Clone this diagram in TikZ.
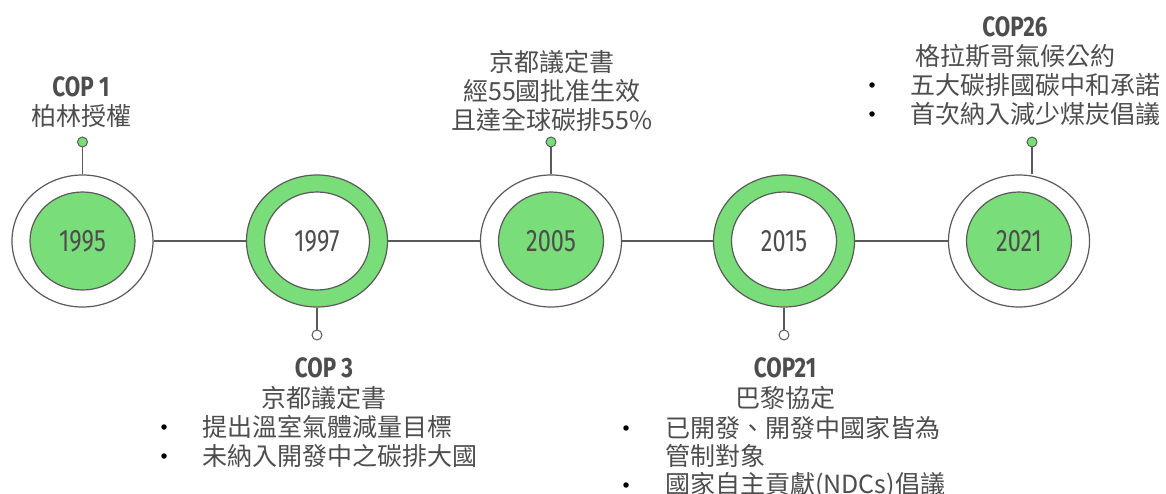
\documentclass[tikz,border=0pt]{standalone}
\usepackage{fontspec}
\usetikzlibrary{shapes.geometric}
\newfontfamily\cjk{Noto Sans CJK TC}
\newfontfamily\yearfont[FakeStretch=0.76]{Fira Sans}
\newfontfamily\copfont[FakeStretch=0.8]{Fira Sans Bold}
\definecolor{ringgreen}{HTML}{79DE79}
\definecolor{edgegray}{HTML}{5A5A5A}
\definecolor{txtgray}{HTML}{4D4D4D}
\begin{document}
\begin{tikzpicture}[x=1pt,y=-1pt,
  outerw/.style={ellipse,draw=edgegray,line width=1.2pt,fill=white,minimum width=141pt,minimum height=132pt,inner sep=0pt},
  outerg/.style={outerw,fill=ringgreen},
  innerg/.style={ellipse,draw=edgegray,line width=1.2pt,fill=ringgreen,minimum width=105pt,minimum height=98pt,inner sep=0pt,text=txtgray,font=\yearfont\fontsize{31}{31}\selectfont},
  innerw/.style={innerg,fill=white},
  link/.style={draw=edgegray,line width=1.2pt},
  dotg/.style={circle,draw=edgegray,line width=1pt,fill=ringgreen,minimum size=10pt,inner sep=0pt},
  dotw/.style={dotg,fill=white},
  cop/.style={text=txtgray,font=\copfont\fontsize{28}{28}\selectfont,inner sep=0pt},
  zh/.style={text=txtgray,font=\cjk\fontsize{25}{25}\selectfont,inner sep=0pt},
  zhl/.style={zh,anchor=west},
  bul/.style={circle,fill=black,minimum size=5.5pt,inner sep=0pt}
]
\useasboundingbox (0,0) rectangle (1166,494);
% circles
\node[outerw] (o1) at (82.5,241) {};
\node[innerg] (i1) at (82.5,241) {1995};
\node[outerg] (o2) at (317,241) {};
\node[innerw] (i2) at (317,241) {1997};
\node[outerw] (o3) at (551,241) {};
\node[innerg] (i3) at (551,241) {2005};
\node[outerg] (o4) at (784,241) {};
\node[innerw] (i4) at (784,241) {2015};
\node[outerw] (o5) at (1019,241) {};
\node[innerg] (i5) at (1019,241) {2021};
% horizontal links
\draw[link] (o1.east) -- (o2.west);
\draw[link] (o2.east) -- (o3.west);
\draw[link] (o3.east) -- (o4.west);
\draw[link] (o4.east) -- (o5.west);
% stems and dots
\node[dotg] (d1) at (82.5,142) {};
\node[dotw] (d2) at (317,335) {};
\node[dotg] (d3) at (551,142) {};
\node[dotw] (d4) at (784,335) {};
\node[dotg] (d5) at (1032,142) {};
\draw[link] (o1.north) -- (d1.south);
\draw[link] (o2.south) -- (d2.north);
\draw[link] (o3.north) -- (d3.south);
\draw[link] (o4.south) -- (d4.north);
\draw[link] (d5.south) -- (d5.south |- o5.north);
% COP 1
\node[cop] (c1t) at (81,87) {COP 1};
\node[zh] (c1a) at (81,116) {柏林授權};
% 2005
\node[zh] (c3a) at (552,62) {京都議定書};
\node[zh] (c3b) at (552,91) {經55國批准生效};
\node[zh] (c3c) at (552,120) {且達全球碳排55\%};
% COP 26
\node[cop] (c5t) at (1015,27) {COP26};
\node[zh] (c5a) at (1015,56) {格拉斯哥氣候公約};
\node[bul] (b5a) at (872,85) {};
\node[zhl] (c5b) at (910,85) {五大碳排國碳中和承諾};
\node[bul] (b5b) at (872,114) {};
\node[zhl] (c5c) at (910,114) {首次納入減少煤炭倡議};
% COP 3
\node[cop] (c2t) at (324,368) {COP 3};
\node[zh] (c2a) at (324,398) {京都議定書};
\node[bul] (b2a) at (164,427) {};
\node[zhl] (c2b) at (202,427) {提出溫室氣體減量目標};
\node[bul] (b2b) at (164,456) {};
\node[zhl] (c2c) at (202,456) {未納入開發中之碳排大國};
% COP 21
\node[cop] (c4t) at (785,368) {COP21};
\node[zh] (c4a) at (785,398) {巴黎協定};
\node[bul] (b4a) at (626,428) {};
\node[zhl] (c4b) at (665,428) {已開發、開發中國家皆為};
\node[zhl] (c4c) at (665,456) {管制對象};
\node[bul] (b4b) at (626,485) {};
\node[zhl] (c4d) at (665,485) {國家自主貢獻(NDCs)倡議};
\end{tikzpicture}
\end{document}
